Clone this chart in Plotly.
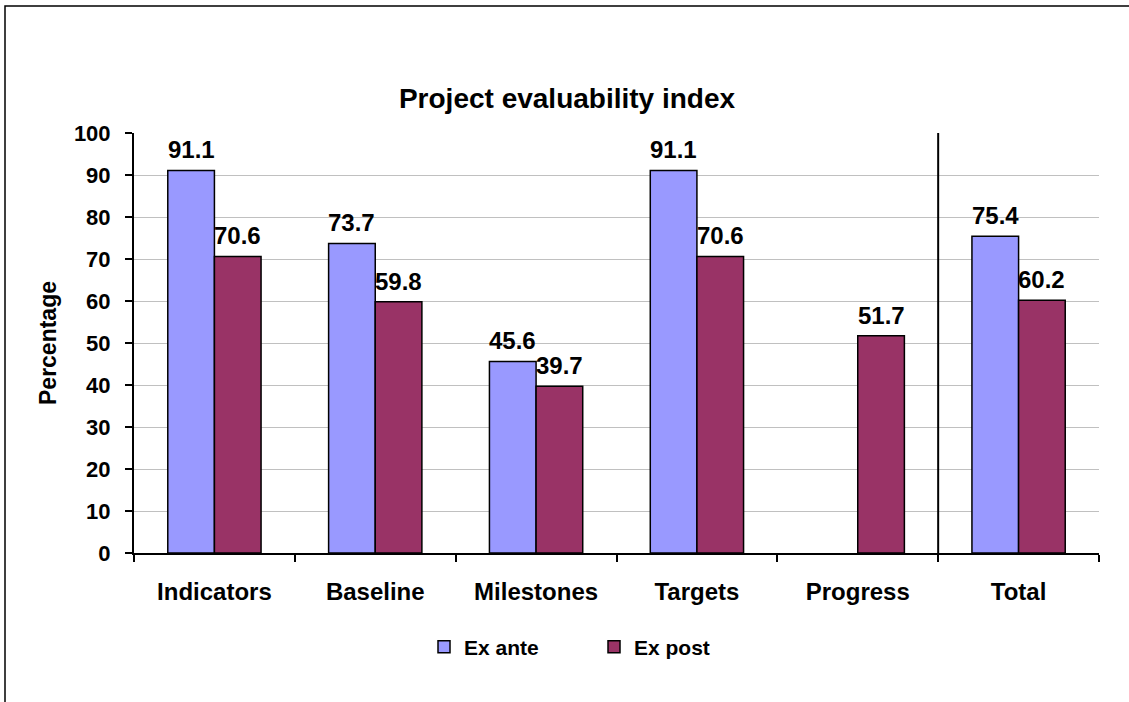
import plotly.graph_objects as go

categories = ["Indicators", "Baseline", "Milestones", "Targets", "Progress", "Total"]
ex_ante = [91.1, 73.7, 45.6, 91.1, None, 75.4]
ex_post = [70.6, 59.8, 39.7, 70.6, 51.7, 60.2]
y_ticks = list(range(0, 101, 10))

W, H = 1129, 702
PX0, PX1, PY0, PY1 = 134, 1099, 133, 553
L = PX0
T = PY0
pw = PX1 - PX0
ph = PY1 - PY0
R = W - L - pw
B = H - T - ph
FONT = "Arial, 'Liberation Sans', sans-serif"
BARGAP = 0.42
bar_px = pw / len(categories) * (1 - BARGAP) / 2


def px_to_paper_x(px):
    return (px - PX0) / pw


def px_to_paper_y(py):
    return 1 - (py - PY0) / ph


fig = go.Figure()
fig.add_trace(go.Bar(x=categories, y=ex_ante, name="Ex ante",
                     marker=dict(color="#9999FF", line=dict(color="#000000", width=1.5))))
fig.add_trace(go.Bar(x=categories, y=ex_post, name="Ex post",
                     marker=dict(color="#993366", line=dict(color="#000000", width=1.5))))

annotations = []
for series, shift in ((ex_ante, -bar_px / 2), (ex_post, bar_px / 2)):
    for c, v in zip(categories, series):
        if v is None:
            continue
        annotations.append(dict(x=c, y=v, xref="x", yref="y", text=f"<b>{v:.1f}</b>",
                                showarrow=False, xshift=shift, yanchor="bottom", yshift=5,
                                font=dict(family=FONT, size=24, color="#000000")))
annotations.append(dict(x=px_to_paper_x(48), y=px_to_paper_y(343), xref="paper", yref="paper",
                        text="<b>Percentage</b>", textangle=-90, showarrow=False,
                        xanchor="center", yanchor="middle",
                        font=dict(family=FONT, size=23, color="#000000")))

shapes = [
    dict(type="rect", xref="paper", yref="paper",
         x0=px_to_paper_x(5), x1=px_to_paper_x(W + 20),
         y0=px_to_paper_y(H + 20), y1=px_to_paper_y(6),
         line=dict(color="#000000", width=1.5), layer="below"),
    dict(type="line", xref="x", yref="y", x0=len(categories) - 1.5, x1=len(categories) - 1.5,
         y0=0, y1=100, line=dict(color="#000000", width=2)),
]

fig.update_layout(
    width=W, height=H,
    margin=dict(l=L, r=R, t=T, b=B, pad=0),
    paper_bgcolor="#FFFFFF", plot_bgcolor="#FFFFFF",
    barmode="group", bargap=BARGAP, bargroupgap=0,
    title=dict(text="<b>Project evaluability index</b>", x=567 / W, xref="container",
               xanchor="center", y=1 - 98 / H, yref="container", yanchor="middle",
               font=dict(family=FONT, size=28, color="#000000")),
    font=dict(family=FONT, color="#000000"),
    showlegend=True,
    legend=dict(orientation="h", x=px_to_paper_x(424), xanchor="left",
                y=px_to_paper_y(647), yanchor="middle",
                font=dict(family=FONT, size=21, color="#000000", weight="bold"),
                entrywidth=125, entrywidthmode="pixels", itemwidth=30,
                bgcolor="rgba(0,0,0,0)"),
    xaxis=dict(showline=True, linecolor="#000000", linewidth=2,
               ticks="outside", tickson="boundaries", ticklen=7, tickwidth=1.5,
               tickcolor="#000000", showgrid=False, zeroline=False,
               ticklabelstandoff=16,
               tickfont=dict(family=FONT, size=24, color="#000000", weight="bold")),
    yaxis=dict(range=[0, 100], tickvals=y_ticks, showline=True, linecolor="#000000",
               linewidth=2, ticks="outside", ticklen=7, tickwidth=1.5, tickcolor="#000000",
               showgrid=True, gridcolor="#C0C0C0", gridwidth=1, zeroline=False,
               ticklabelstandoff=10,
               tickfont=dict(family=FONT, size=22, color="#000000", weight="bold")),
    annotations=annotations,
    shapes=shapes,
)

fig.write_html("out.html", config={"displayModeBar": False},
               post_script="document.body.style.margin='0';document.body.style.overflow='hidden';")
